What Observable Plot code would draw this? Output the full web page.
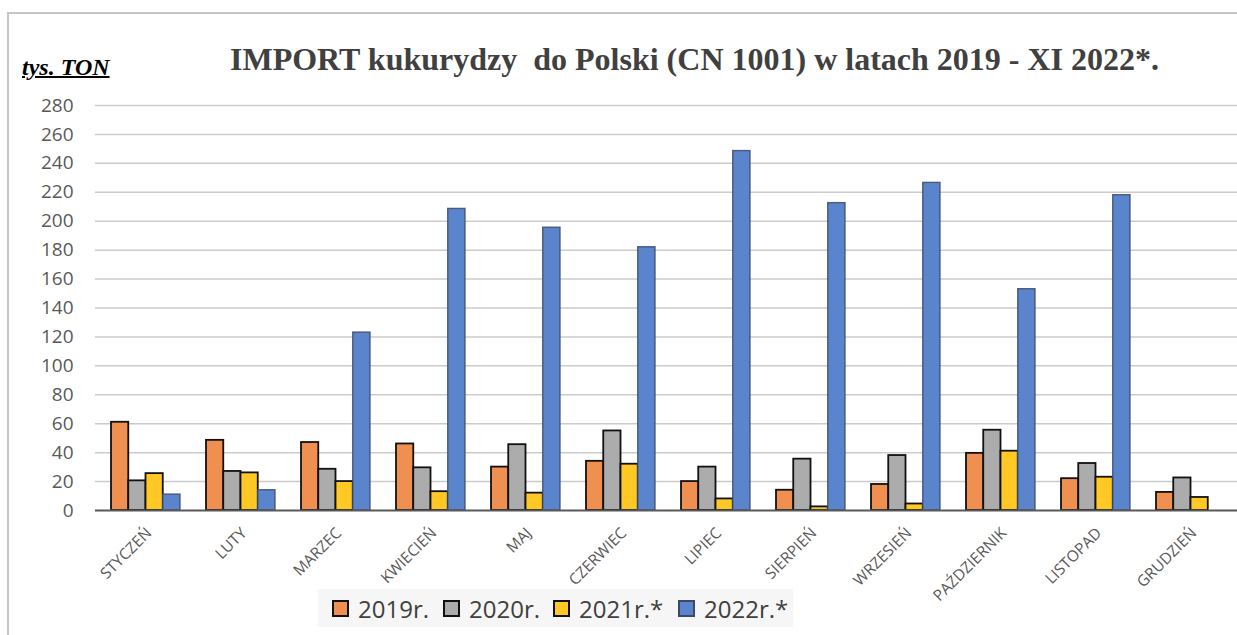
<!DOCTYPE html>
<html>
<head>
<meta charset="utf-8">
<script src="https://cdn.jsdelivr.net/npm/d3@7"></script>
<script src="https://cdn.jsdelivr.net/npm/@observablehq/plot@0.6"></script>
<style>
  html, body { margin: 0; padding: 0; background: #fff; width: 1237px; height: 635px; overflow: hidden; position: relative; }
  #frame { position: absolute; left: 7px; top: 12px; width: 1300px; height: 700px; border-left: 2px solid #c6c6c6; border-top: 2px solid #c6c6c6; }
  #title { position: absolute; left: 230px; top: 43px; font-family: "Liberation Serif", serif; font-weight: bold; font-size: 32px; line-height: 1; color: #404040; white-space: pre; }
  #unit { position: absolute; left: 22px; top: 55px; font-family: "Liberation Serif", serif; font-weight: bold; font-style: italic; font-size: 24px; line-height: 1; color: #000; text-decoration: underline; text-decoration-thickness: 2px; }
  #chart { position: absolute; left: 0; top: 90px; }
  #legend { position: absolute; left: 318px; top: 589px; width: 475px; height: 38px; background: #f6f6f6; font-family: "Open Sans", sans-serif; font-size: 24px; color: #404040; }
  .item { display: flex; align-items: center; position: absolute; top: 0; height: 38px; }
  .sw { width: 13px; height: 13px; border: 2px solid #111; margin-right: 9px; }
</style>
</head>
<body>
<div id="frame"></div>
<div id="unit">tys. TON</div>
<div id="title">IMPORT kukurydzy  do Polski (CN 1001) w latach 2019 - XI 2022*.</div>
<div id="chart"></div>
<div id="legend"></div>
<script>
const months = ["STYCZEŃ","LUTY","MARZEC","KWIECIEŃ","MAJ","CZERWIEC","LIPIEC","SIERPIEŃ","WRZESIEŃ","PAŹDZIERNIK","LISTOPAD","GRUDZIEŃ"];
const seriesNames = ["2019r.","2020r.","2021r.*","2022r.*"];
const v2019 = [61, 48.5, 47, 46, 30, 34, 20, 14, 18, 39.5, 22, 12.5];
const v2020 = [20.5, 27, 28.5, 29.5, 45.5, 55, 30, 35.5, 38, 55.5, 32.5, 22.5];
const v2021 = [25.5, 26, 20, 13, 12, 32, 8, 2.5, 4.5, 41, 23, 9];
const v2022 = [11, 14, 123, 208.5, 195.5, 182, 248.5, 212.5, 226.5, 153, 218, null];
const yTicks = [0,20,40,60,80,100,120,140,160,180,200,220,240,260,280];
const colors = ["#ef8f50", "#acacac", "#ffc824", "#5a85cd"];
const strokes = ["#111", "#111", "#111", "#3d4a66"];

const seriesValues = [v2019, v2020, v2021, v2022];
const data = [];
seriesValues.forEach((vals, si) => {
  vals.forEach((v, mi) => {
    if (v != null) data.push({month: months[mi], series: seriesNames[si], si, value: v});
  });
});

const W = 1240, ML = 95, MR = 0;
const xOpts = {type: "band", domain: months, range: [ML, W - MR], paddingInner: 0.277, paddingOuter: 0.1385};
const xs = Plot.scale({x: xOpts});
const bw = xs.bandwidth / 4;

const barMarks = seriesNames.map((s, i) =>
  Plot.barY(data.filter(d => d.si === i), {
    x: "month", y: "value",
    fill: colors[i], stroke: strokes[i],
    strokeWidth: i === 3 ? 1.4 : 1.8,
    strokeOpacity: i === 3 ? 0.85 : 1,
    insetLeft: i * bw, insetRight: (3 - i) * bw
  })
);

const chart = Plot.plot({
  width: W, height: 520,
  marginLeft: ML, marginRight: MR, marginTop: 15, marginBottom: 100,
  style: {background: "transparent", maxWidth: "none", fontFamily: "Open Sans, sans-serif", overflow: "visible"},
  x: {...xOpts, label: null},
  y: {domain: [0, 280], label: null},
  marks: [
    Plot.ruleY(yTicks.filter(d => d > 0), {stroke: "#cbcbcb", strokeWidth: 1.5}),
    ...barMarks,
    Plot.ruleY([0], {stroke: "#595959", strokeWidth: 2}),
    Plot.axisY({ticks: yTicks, tickSize: 0, tickPadding: 22, fontSize: 19, color: "#595959", label: null}),
    Plot.axisX({tickSize: 0, tickRotate: -45, tickPadding: 20, dx: 3, fontSize: 15.5, color: "#595959", label: null})
  ]
});
document.getElementById("chart").appendChild(chart);

const legend = document.getElementById("legend");
const legendLeft = [14, 125, 235, 360];
seriesNames.forEach((s, i) => {
  const it = document.createElement("div");
  it.className = "item";
  it.style.left = legendLeft[i] + "px";
  const sw = document.createElement("div");
  sw.className = "sw";
  sw.style.background = colors[i];
  sw.style.borderColor = strokes[i];
  const t = document.createElement("span");
  t.textContent = s;
  it.appendChild(sw); it.appendChild(t);
  legend.appendChild(it);
});
</script>
</body>
</html>
